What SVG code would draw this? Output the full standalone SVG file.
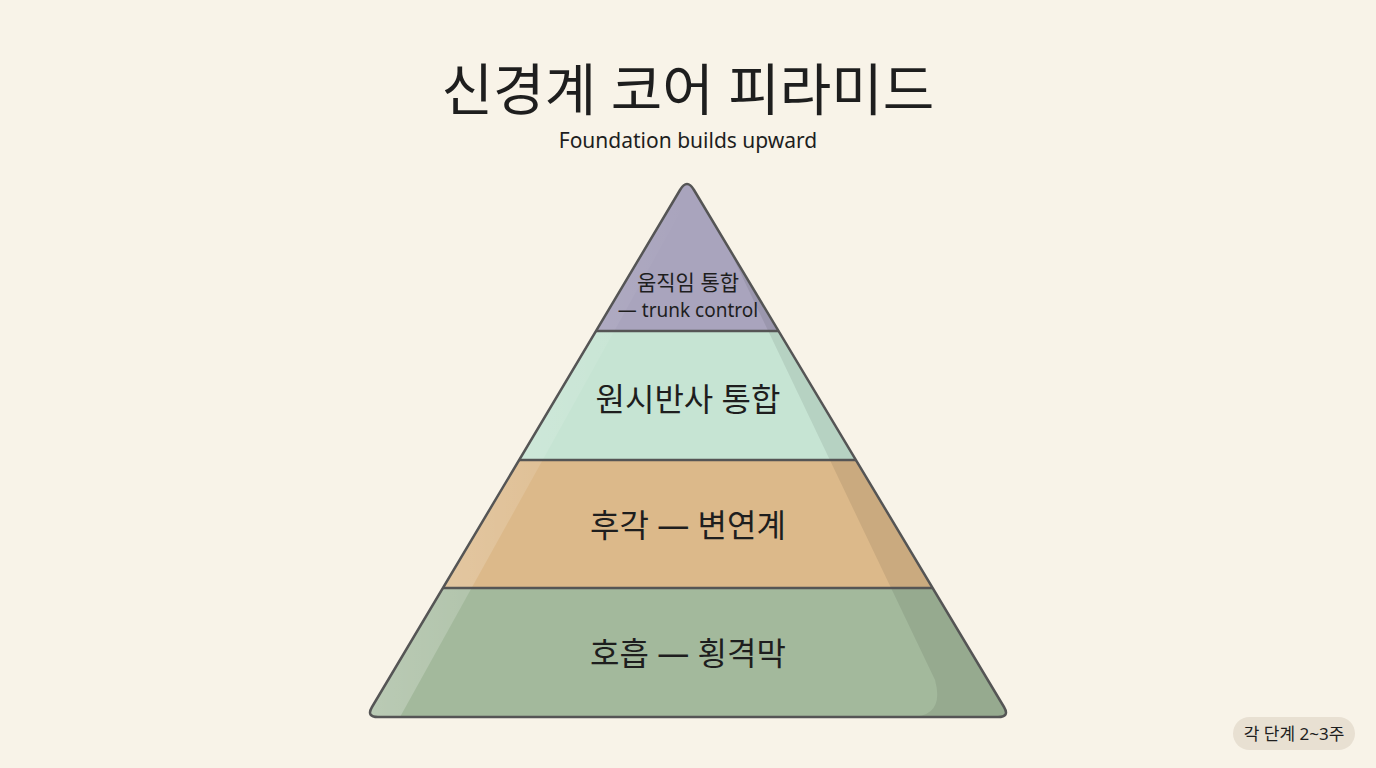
<svg xmlns="http://www.w3.org/2000/svg" width="1376" height="768" viewBox="0 0 1376 768">
<defs>
<style>
.t{font-family:"Noto Sans","Noto Sans CJK KR",sans-serif;fill:#1e1e1e;text-anchor:middle}
</style>
<clipPath id="pc"><path d="M680,190 Q687,178 694,190 L1004,707 Q1010,717 998,717 L378,717 Q366,717 372,707 Z"/></clipPath>
<linearGradient id="hl" x1="0" y1="0" x2="1" y2="0"><stop offset="0" stop-color="#fff" stop-opacity="0.25"/><stop offset="1" stop-color="#fff" stop-opacity="0"/></linearGradient>
</defs>
<rect width="1376" height="768" fill="#f8f3e8"/>
<text class="t" x="688" y="110" font-size="56">신경계 코어 피라미드</text>
<text class="t" x="688" y="148" font-size="21">Foundation builds upward</text>
<g id="pyramid" clip-path="url(#pc)">
<g id="level4"><rect x="300" y="170" width="800" height="161" fill="#a9a4bd"/></g>
<g id="level3"><rect x="300" y="331" width="800" height="129" fill="#c6e4d3"/></g>
<g id="level2"><rect x="300" y="460" width="800" height="128" fill="#dcb98a"/></g>
<g id="level1"><rect x="300" y="588" width="800" height="130" fill="#a3b99c"/></g>
<path d="M696,180 L935,680 Q945,717 910,717 L1020,717 L1020,170 Z" fill="#000" opacity="0.08"/>
<path d="M687,178 L366,717 L400,717 L687,200 Z" fill="url(#hl)"/>
</g>
<g id="connectors" stroke="#555" stroke-width="2.5" fill="none">
<line x1="596" y1="331" x2="778" y2="331"/>
<line x1="519" y1="460" x2="856" y2="460"/>
<line x1="443" y1="588" x2="933" y2="588"/>
<path d="M680,190 Q687,178 694,190 L1004,707 Q1010,717 998,717 L378,717 Q366,717 372,707 Z" stroke-linejoin="round"/>
</g>
<text class="t" x="688" y="290" font-size="21">움직임 통합</text>
<text class="t" x="688" y="317" font-size="19">— trunk control</text>
<text class="t" x="688" y="411" font-size="32">원시반사 통합</text>
<text class="t" x="688" y="537" font-size="32">후각 — 변연계</text>
<text class="t" x="688" y="665" font-size="32">호흡 — 횡격막</text>
<g id="badge">
<rect x="1233" y="717" width="122" height="33" rx="16.5" fill="#e8e0d2"/>
<text class="t" x="1294" y="740" font-size="17">각 단계 2~3주</text>
</g>
</svg>
